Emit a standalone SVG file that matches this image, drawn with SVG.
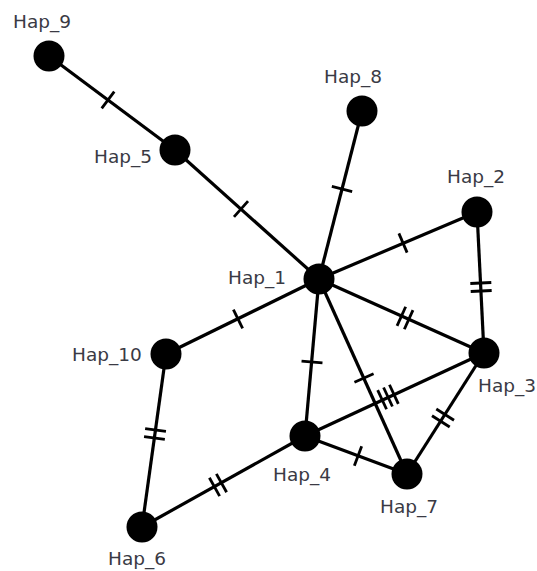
<svg xmlns="http://www.w3.org/2000/svg" width="537" height="571" viewBox="0 0 537 571">
<style>
.e{stroke:#000;stroke-width:3.2;fill:none}
.t{stroke:#000;stroke-width:2.8;fill:none}
.n{fill:#000}
text{font-family:"DejaVu Sans",Verdana,sans-serif;font-size:18.5px;fill:#3a3a44}
</style>
<defs>
<g id="t1"><line x1="0" y1="-10.5" x2="0" y2="10.5"/></g>
<g id="t2"><line x1="-4" y1="-10.5" x2="-4" y2="10.5"/><line x1="4" y1="-10.5" x2="4" y2="10.5"/></g>
<g id="t3"><line x1="-6.5" y1="-10.5" x2="-6.5" y2="10.5"/><line x1="0" y1="-10.5" x2="0" y2="10.5"/><line x1="6.5" y1="-10.5" x2="6.5" y2="10.5"/></g>
</defs>
<rect width="537" height="571" fill="#fff"/>
<g id="connectors">
<line class="e" x1="49" y1="56" x2="175" y2="150"/>
<line class="e" x1="175" y1="150" x2="319" y2="279"/>
<line class="e" x1="362" y1="111" x2="319" y2="279"/>
<line class="e" x1="319" y1="279" x2="477" y2="212"/>
<line class="e" x1="477" y1="212" x2="484" y2="353"/>
<line class="e" x1="319" y1="279" x2="484" y2="353"/>
<line class="e" x1="319" y1="279" x2="166" y2="354"/>
<line class="e" x1="319" y1="279" x2="305" y2="436"/>
<line class="e" x1="319" y1="279" x2="407" y2="474"/>
<line class="e" x1="166" y1="354" x2="142" y2="527"/>
<line class="e" x1="142" y1="527" x2="305" y2="436"/>
<line class="e" x1="305" y1="436" x2="484" y2="353"/>
<line class="e" x1="305" y1="436" x2="407" y2="474"/>
<line class="e" x1="484" y1="353" x2="407" y2="474"/>
<g class="t">
<use href="#t1" transform="translate(108,100) rotate(36.7)"/>
<use href="#t1" transform="translate(241,209) rotate(41.9)"/>
<use href="#t1" transform="translate(342,189) rotate(104.4)"/>
<use href="#t1" transform="translate(403,243) rotate(-23)"/>
<use href="#t2" transform="translate(481,287) rotate(87.2)"/>
<use href="#t2" transform="translate(405,318) rotate(24.2)"/>
<use href="#t1" transform="translate(238,319) rotate(153.9)"/>
<use href="#t1" transform="translate(312,362) rotate(95.1)"/>
<use href="#t1" transform="translate(364,378) rotate(65.7)"/>
<use href="#t2" transform="translate(155,434) rotate(97.9)"/>
<use href="#t2" transform="translate(218,485) rotate(-29.2)"/>
<use href="#t3" transform="translate(388,397) rotate(-24.9)"/>
<use href="#t1" transform="translate(358,456) rotate(20.4)"/>
<use href="#t2" transform="translate(443,418) rotate(122.5)"/>
</g>
</g>
<g id="Hap_9"><circle class="n" cx="49" cy="56" r="15.5"/><text x="13" y="28">Hap_9</text></g>
<g id="Hap_5"><circle class="n" cx="175" cy="150" r="15.5"/><text x="94" y="163">Hap_5</text></g>
<g id="Hap_8"><circle class="n" cx="362" cy="111" r="15.5"/><text x="324" y="83">Hap_8</text></g>
<g id="Hap_2"><circle class="n" cx="477" cy="212" r="15.5"/><text x="447" y="183">Hap_2</text></g>
<g id="Hap_1"><circle class="n" cx="319" cy="279" r="15.5"/><text x="228" y="284">Hap_1</text></g>
<g id="Hap_10"><circle class="n" cx="166" cy="354" r="15.5"/><text x="72" y="361">Hap_10</text></g>
<g id="Hap_3"><circle class="n" cx="484" cy="353" r="15.5"/><text x="478" y="392">Hap_3</text></g>
<g id="Hap_4"><circle class="n" cx="305" cy="436" r="15.5"/><text x="273" y="481">Hap_4</text></g>
<g id="Hap_7"><circle class="n" cx="407" cy="474" r="15.5"/><text x="380" y="513">Hap_7</text></g>
<g id="Hap_6"><circle class="n" cx="142" cy="527" r="15.5"/><text x="108" y="565">Hap_6</text></g>
</svg>
